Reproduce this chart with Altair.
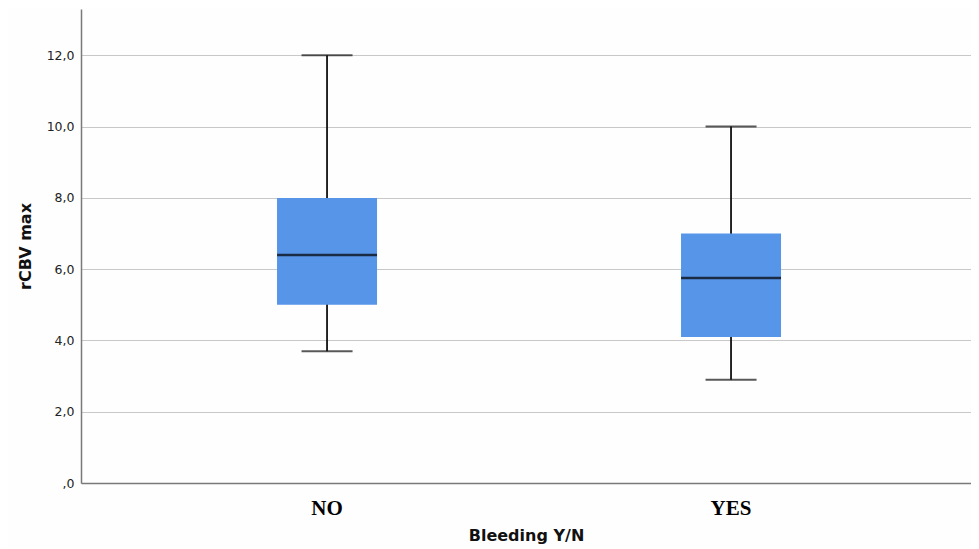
import altair as alt
import pandas as pd

categories = ["NO", "YES"]
whisker_low = [3.7, 2.9]
q1 = [5.0, 4.1]
median = [6.4, 5.75]
q3 = [8.0, 7.0]
whisker_high = [12.0, 10.0]

df = pd.DataFrame({
    "cat": categories,
    "lo": whisker_low,
    "q1": q1,
    "med": median,
    "q3": q3,
    "hi": whisker_high,
})

xscale = alt.Scale(domain=categories, paddingInner=0, paddingOuter=0.1015, align=0.537)
yscale = alt.Scale(domain=[0, 13.3], nice=False, zero=False)

x_enc = alt.X(
    "cat:N", scale=xscale, sort=categories, title="Bleeding Y/N",
    axis=alt.Axis(
        labelFont="Liberation Serif", labelFontSize=21, labelFontWeight="bold",
        labelColor="#000000", labelAngle=0, labelPadding=14, ticks=False,
        domainColor="#7a7a7a", domainWidth=1.5,
        titleFont="DejaVu Sans", titleFontSize=16, titleFontWeight="bold",
        titleColor="#111111", titlePadding=9, grid=False,
    ),
)

y_axis = alt.Axis(
    values=[0, 2, 4, 6, 8, 10, 12],
    labelExpr="datum.value == 0 ? ',0' : replace(format(datum.value, '.1f'), '.', ',')",
    labelFont="DejaVu Sans", labelFontSize=12.5, labelColor="#222222", labelPadding=7,
    ticks=False, domainColor="#7a7a7a", domainWidth=1.5,
    grid=True, gridColor="#c8c8c8", gridWidth=1,
    title="rCBV max", titleFont="DejaVu Sans", titleFontSize=16,
    titleFontWeight="bold", titleColor="#111111", titlePadding=13,
)

base = alt.Chart(df)

whisk = base.mark_rule(color="#111111", strokeWidth=1.8).encode(
    x=x_enc,
    y=alt.Y("lo:Q", scale=yscale, axis=y_axis),
    y2="hi:Q",
)
box = base.mark_bar(size=100, color="#5795e8").encode(
    x=x_enc, y=alt.Y("q1:Q", scale=yscale), y2="q3:Q"
)
med = base.mark_tick(size=100, thickness=2.5, color="#000000", orient="horizontal").encode(
    x=x_enc, y=alt.Y("med:Q", scale=yscale)
)
cap_lo = base.mark_tick(size=51, thickness=2, color="#111111", orient="horizontal").encode(
    x=x_enc, y=alt.Y("lo:Q", scale=yscale)
)
cap_hi = base.mark_tick(size=51, thickness=2, color="#111111", orient="horizontal").encode(
    x=x_enc, y=alt.Y("hi:Q", scale=yscale)
)

chart = alt.layer(whisk, box, med, cap_lo, cap_hi).properties(
    width=890, height=474,
    autosize=alt.AutoSizeParams(type="none"),
    padding={"left": 73, "top": 1, "right": 0, "bottom": 64},
    background="#fefefe",
).configure_view(stroke=None)

chart.save("out.html", embed_options={"renderer": "svg", "actions": False})
